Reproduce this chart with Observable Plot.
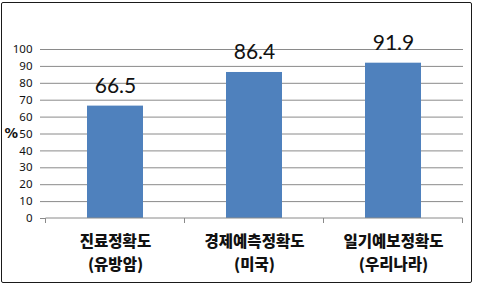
<!DOCTYPE html>
<html>
<head>
<meta charset="utf-8">
<script src="https://cdn.jsdelivr.net/npm/d3@7"></script>
<script src="https://cdn.jsdelivr.net/npm/@observablehq/plot@0.6"></script>
<style>
  html, body { margin: 0; padding: 0; background: #fff; }
  #wrap { position: relative; width: 477px; height: 289px; overflow: hidden; }
  #border { position: absolute; left: 1px; top: 2px; width: 469px; height: 279px;
            border: 1.5px solid #1a1a1a; border-radius: 2px; pointer-events: none; }
</style>
</head>
<body>
<div id="wrap"><div id="border"></div></div>
<script>
const categories = ["진료정확도\n(유방암)", "경제예측정확도\n(미국)", "일기예보정확도\n(우리나라)"];
const values = [66.5, 86.4, 91.9];
const yTicks = [0, 10, 20, 30, 40, 50, 60, 70, 80, 90, 100];
const unitLabel = "%";

const data = categories.map((c, i) => ({category: c, value: values[i]}));

const gridColor = "#8a8a8a";

// bottom axis line and tick marks at band boundaries, computed from the band scale
const bandTicks = (index, scales, values, dims) => {
  const x = scales.x;
  const dom = categories;
  const bw = typeof x.bandwidth === "function" ? x.bandwidth() : x.bandwidth;
  const step = dom.length > 1 ? x(dom[1]) - x(dom[0]) : bw;
  const gap = (step - bw) / 2;
  const y0 = dims.height - dims.marginBottom;
  const ns = "http://www.w3.org/2000/svg";
  const g = document.createElementNS(ns, "g");
  const edges = dom.map(c => x(c) - gap).concat([x(dom[dom.length - 1]) + bw + gap]);
  const line = document.createElementNS(ns, "line");
  line.setAttribute("x1", edges[0]); line.setAttribute("x2", edges[edges.length - 1]);
  line.setAttribute("y1", y0); line.setAttribute("y2", y0);
  line.setAttribute("stroke", gridColor);
  g.appendChild(line);
  for (const e of edges) {
    const t = document.createElementNS(ns, "line");
    t.setAttribute("x1", e); t.setAttribute("x2", e);
    t.setAttribute("y1", y0); t.setAttribute("y2", y0 + 5);
    t.setAttribute("stroke", gridColor);
    g.appendChild(t);
  }
  return g;
};

const chart = Plot.plot({
  width: 477,
  height: 289,
  marginLeft: 45,
  marginRight: 14,
  marginTop: 49,
  marginBottom: 71,
  style: {background: "transparent", overflow: "visible"},
  x: {domain: categories, paddingInner: 0.6, paddingOuter: 0.3, axis: null},
  y: {domain: [0, 100], axis: null},
  marks: [
    Plot.ruleY(yTicks.filter(d => d > 0), {stroke: gridColor, strokeWidth: 1}),
    Plot.axisY(yTicks, {
      tickSize: 5, tickPadding: 8, stroke: gridColor, label: null,
      fontSize: 11.5, fontFamily: "Noto Sans, sans-serif", fill: "#111"
    }),
    Plot.ruleX([null], {frameAnchor: "left", stroke: gridColor}),
    Plot.barY(data, {x: "category", y: "value", fill: "#4f81bd"}),
    Plot.text(data, {
      x: "category", y: "value", text: d => d.value.toFixed(1),
      dy: -20, fontSize: 21, fontFamily: "Lato, sans-serif", fill: "#111"
    }),
    bandTicks,
    Plot.text(data, {
      x: "category", y: 0, text: "category", dy: 12, lineAnchor: "top",
      lineHeight: 1.5, fontSize: 15.5, fontWeight: 900,
      fontFamily: "Noto Sans CJK KR, sans-serif", fill: "#111"
    }),
    Plot.text([unitLabel], {
      y: 50, text: d => d, frameAnchor: "left", textAnchor: "start", dx: -41,
      fontSize: 13.5, fontWeight: 600, fontFamily: "DejaVu Sans, sans-serif", fill: "#111"
    })
  ]
});

document.getElementById("wrap").insertBefore(chart, document.getElementById("border"));
</script>
</body>
</html>
